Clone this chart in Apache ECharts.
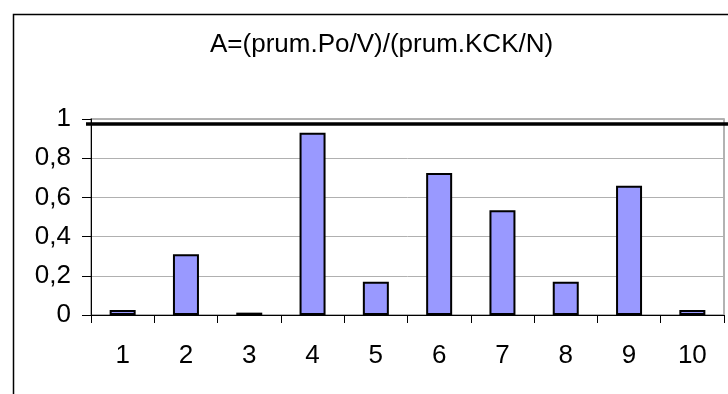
<!DOCTYPE html>
<html><head><meta charset="utf-8">
<script src="https://cdn.jsdelivr.net/npm/echarts@6/dist/echarts.min.js"></script>
<style>html,body{margin:0;padding:0;background:#fff}#c{width:728px;height:394px}</style>
</head><body><div id="c"></div>
<script>
const categories = ['1','2','3','4','5','6','7','8','9','10'];
const values = [0.025, 0.31, 0.012, 0.93, 0.17, 0.725, 0.535, 0.17, 0.66, 0.025];
const yMin = 0, yMax = 1, yStep = 0.2;
const refLineValue = 0.975;
const titleText = 'A=(prum.Po/V)/(prum.KCK/N)';
const FONT = '"Liberation Sans", Arial, sans-serif';

const chart = echarts.init(document.getElementById('c'), null, {renderer: 'canvas'});
const option = {
  animation: false,
  backgroundColor: '#fff',
  title: {
    text: titleText,
    left: 205, top: 27,
    textStyle: {fontFamily: FONT, fontSize: 26, fontWeight: 'normal', color: '#000'}
  },
  grid: {
    left: 91, right: 4, top: 119, bottom: 79,
    show: true, borderColor: '#999', borderWidth: 1.5, backgroundColor: 'transparent'
  },
  xAxis: {
    type: 'category',
    data: categories,
    axisLine: {lineStyle: {color: '#000', width: 1}},
    axisTick: {show: true, length: 8, lineStyle: {color: '#000'}},
    axisLabel: {fontFamily: FONT, fontSize: 26, color: '#000', margin: 28}
  },
  yAxis: {
    type: 'value',
    min: yMin, max: yMax, interval: yStep,
    axisLine: {show: true, lineStyle: {color: '#000', width: 1}},
    axisTick: {show: true, length: 9, lineStyle: {color: '#000'}},
    axisLabel: {
      fontFamily: FONT, fontSize: 26, color: '#000', margin: 20,
      formatter: v => String(+v.toFixed(1)).replace('.', ',')
    },
    splitLine: {show: true, lineStyle: {color: '#b0b0b0', width: 1}}
  },
  series: [{
    type: 'bar',
    data: values,
    barWidth: 26,
    itemStyle: {color: '#9999ff', borderColor: '#000', borderWidth: 2}
  }]
};
chart.setOption(option);

const yRef = chart.convertToPixel({yAxisIndex: 0}, refLineValue);
chart.setOption({
  graphic: [
    {type: 'rect', left: 11, top: 12, shape: {x: 0, y: 0, width: 760, height: 420},
     style: {fill: 'none', stroke: '#000', lineWidth: 1.5}, silent: true, z: 0},
    {type: 'line', shape: {x1: 86, y1: yRef, x2: 728, y2: yRef},
     style: {stroke: '#000', lineWidth: 3.5}, silent: true, z: 100}
  ]
});
</script>
</body></html>
